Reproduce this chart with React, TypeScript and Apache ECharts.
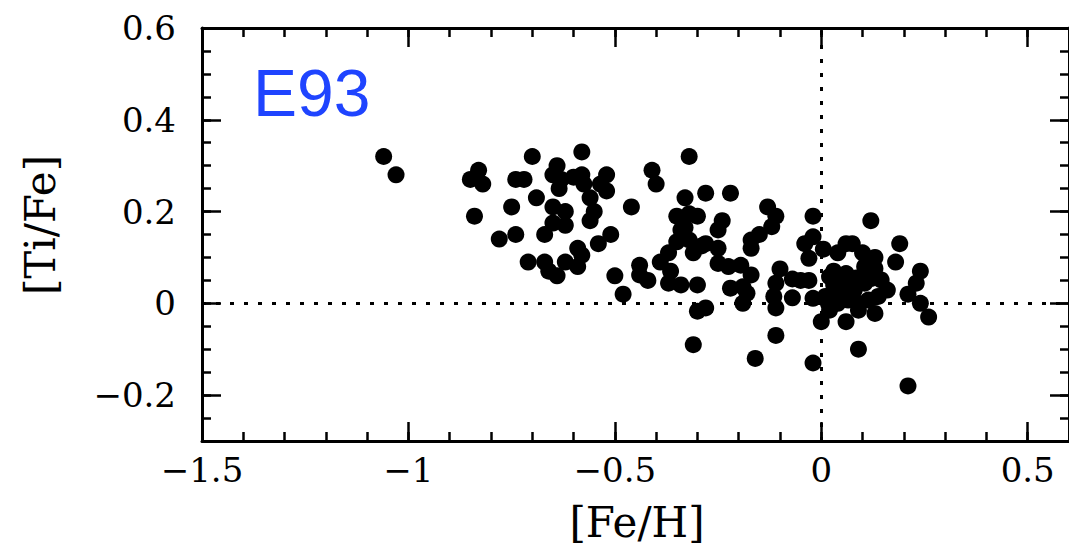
import React, { useEffect, useRef } from "react";
import * as echarts from "echarts";

// [Fe/H] values (x)
const feH = [
  -1.06, -1.03, -0.83, -0.85, -0.82, -0.84, -0.74, -0.72, -0.70, -0.69,
  -0.75, -0.78, -0.74, -0.58, -0.64, -0.65, -0.63, -0.635, -0.60, -0.58,
  -0.575, -0.52, -0.52, -0.535, -0.56, -0.65, -0.62, -0.55, -0.56, -0.65,
  -0.62, -0.67, -0.51, -0.54, -0.46, -0.59, -0.58, -0.59, -0.62, -0.71,
  -0.67, -0.66, -0.64, -0.50, -0.48, -0.44, -0.44, -0.42, -0.41, -0.40,
  -0.32, -0.33, -0.28, -0.22, -0.35, -0.32, -0.30, -0.34, -0.24, -0.25,
  -0.35, -0.32, -0.37, -0.31, -0.28, -0.25, -0.39, -0.365, -0.37, -0.34,
  -0.30, -0.25, -0.225, -0.195, -0.17, -0.22, -0.19, -0.19, -0.18, -0.30,
  -0.28, -0.31, -0.16, -0.11, -0.13, -0.11, -0.12, -0.15, -0.17, -0.17,
  -0.10, -0.11, -0.115, -0.11, -0.07, -0.05, -0.03, -0.07, -0.02, -0.02,
  -0.02, -0.04, -0.03, 0.005, 0.02, 0.0, -0.02, 0.06, 0.075, 0.04,
  0.10, 0.13, 0.12, 0.19, 0.18, 0.105, 0.13, 0.09, 0.06, 0.24,
  0.23, 0.21, 0.24, 0.26, 0.21, 0.01, 0.033, 0.057, 0.08, 0.105,
  0.12, 0.145, 0.16, 0.138, 0.114, 0.089, 0.065, 0.04, 0.017, 0.02,
  0.09, 0.13, 0.05, 0.03, 0.06, 0.085, 0.07, 0.03, -0.33, -0.29,
];

// [Ti/Fe] values (y)
const tiFe = [
  0.32, 0.28, 0.29, 0.27, 0.26, 0.19, 0.27, 0.27, 0.32, 0.23,
  0.21, 0.14, 0.15, 0.33, 0.30, 0.28, 0.27, 0.25, 0.275, 0.28,
  0.26, 0.28, 0.245, 0.26, 0.23, 0.21, 0.20, 0.20, 0.18, 0.175,
  0.17, 0.15, 0.15, 0.13, 0.21, 0.12, 0.105, 0.08, 0.09, 0.09,
  0.09, 0.07, 0.06, 0.06, 0.02, 0.083, 0.062, 0.05, 0.29, 0.26,
  0.32, 0.23, 0.24, 0.24, 0.19, 0.195, 0.19, 0.16, 0.18, 0.16,
  0.134, 0.138, 0.11, 0.11, 0.13, 0.12, 0.09, 0.07, 0.044, 0.04,
  0.04, 0.087, 0.08, 0.083, 0.062, 0.033, 0.036, 0.0, 0.022, -0.017,
  -0.01, -0.09, -0.12, -0.07, 0.21, 0.19, 0.167, 0.15, 0.138, 0.12,
  0.075, 0.044, 0.015, -0.01, 0.053, 0.05, 0.05, 0.012, 0.011, 0.19,
  0.145, 0.13, 0.098, 0.118, 0.058, -0.04, -0.13, 0.13, 0.13, 0.11,
  0.11, 0.10, 0.18, 0.13, 0.09, 0.08, 0.076, -0.10, -0.04, 0.07,
  0.044, 0.02, 0.0, -0.03, -0.18, 0.015, 0.025, 0.022, 0.029, 0.044,
  0.054, 0.051, 0.029, 0.015, 0.007, 0.0, 0.007, 0.0, 0.0, -0.015,
  -0.015, -0.022, 0.05, 0.07, 0.065, 0.055, 0.035, 0.04, 0.165, 0.125,
];

const xRange = [-1.5, 0.6];
const yRange = [-0.3, 0.6];
const referenceX = 0;
const referenceY = 0;
const xTitle = "[Fe/H]";
const yTitle = "[Ti/Fe]";
const panelLabel = "E93";

const fmt = (v: number) => {
  const r = Math.round(v * 1000) / 1000;
  if (r < 0) return "\u2212" + String(Math.abs(r));
  return String(r);
};

const FONT = "DejaVu Serif";
const tickFont = 34;

export default function App() {
  const ref = useRef<HTMLDivElement>(null);
  useEffect(() => {
    if (!ref.current) return;
    const chart = echarts.init(ref.current, null, { renderer: "svg" });
    const data = feH.map((x, i) => [x, tiFe[i]]);
    const axisLine = { show: true, onZero: false, lineStyle: { color: "#000", width: 3 } };
    const noLine = { show: false, onZero: false };
    const majorTick = { show: true, inside: true, length: 19, lineStyle: { color: "#000", width: 2.5 } };
    const minorTickAsMain = { show: true, inside: true, length: 9, lineStyle: { color: "#000", width: 2.5 } };
    const noLabel = { show: false };
    const baseX = { type: "value", min: xRange[0], max: xRange[1], splitLine: { show: false } };
    const baseY = { type: "value", min: yRange[0], max: yRange[1], splitLine: { show: false } };
    chart.setOption({
      animation: false,
      backgroundColor: "#fff",
      grid: { left: 202, top: 28, width: 869, height: 413 },
      xAxis: [
        {
          ...baseX,
          position: "bottom",
          interval: 0.5,
          axisLine,
          axisTick: majorTick,
          axisLabel: {
            show: true,
            formatter: fmt,
            fontFamily: FONT,
            fontSize: tickFont,
            color: "#000",
            margin: 12,
            showMaxLabel: false,
          },
        },
        { ...baseX, position: "bottom", interval: 0.1, axisLine: noLine, axisTick: minorTickAsMain, axisLabel: noLabel },
        { ...baseX, position: "top", interval: 0.5, axisLine, axisTick: majorTick, axisLabel: noLabel },
        { ...baseX, position: "top", interval: 0.1, axisLine: noLine, axisTick: minorTickAsMain, axisLabel: noLabel },
      ],
      yAxis: [
        {
          ...baseY,
          position: "left",
          axisLine,
          axisTick: majorTick,
          axisLabel: {
            show: true,
            formatter: fmt,
            fontFamily: FONT,
            fontSize: tickFont,
            color: "#000",
            margin: 26,
            showMinLabel: false,
          },
        },
        { ...baseY, position: "left", interval: 0.05, axisLine: noLine, axisTick: minorTickAsMain, axisLabel: noLabel },
        { ...baseY, position: "right", axisLine, axisTick: majorTick, axisLabel: noLabel },
        { ...baseY, position: "right", interval: 0.05, axisLine: noLine, axisTick: minorTickAsMain, axisLabel: noLabel },
      ],
      graphic: [
        {
          type: "text",
          x: 253,
          y: 93,
          style: {
            text: panelLabel,
            font: "66px 'Liberation Sans', Arial, sans-serif",
            fill: "#1f44ff",
            textAlign: "left",
            textVerticalAlign: "middle",
          },
        },
        {
          type: "text",
          x: 637,
          y: 522,
          style: {
            text: xTitle,
            font: `42px '${FONT}'`,
            fill: "#000",
            textAlign: "center",
            textVerticalAlign: "middle",
          },
        },
        {
          type: "text",
          x: 40,
          y: 225,
          rotation: Math.PI / 2,
          style: {
            text: yTitle,
            font: `42px '${FONT}'`,
            fill: "#000",
            textAlign: "center",
            textVerticalAlign: "middle",
          },
        },
      ],
      series: [
        {
          type: "scatter",
          xAxisIndex: 0,
          yAxisIndex: 0,
          symbol: "circle",
          symbolSize: 17,
          itemStyle: { color: "#000", opacity: 1 },
          z: 3,
          data,
          markLine: {
            z: 1,
            silent: true,
            symbol: "none",
            label: { show: false },
            lineStyle: { color: "#000", width: 3, type: [4, 10] },
            data: [{ xAxis: referenceX }, { yAxis: referenceY }],
          },
        },
      ],
    });
    return () => chart.dispose();
  }, []);
  return (
    <div
      ref={ref}
      style={{ position: "fixed", left: 0, top: 0, width: 1069, height: 545, background: "#fff" }}
    />
  );
}
